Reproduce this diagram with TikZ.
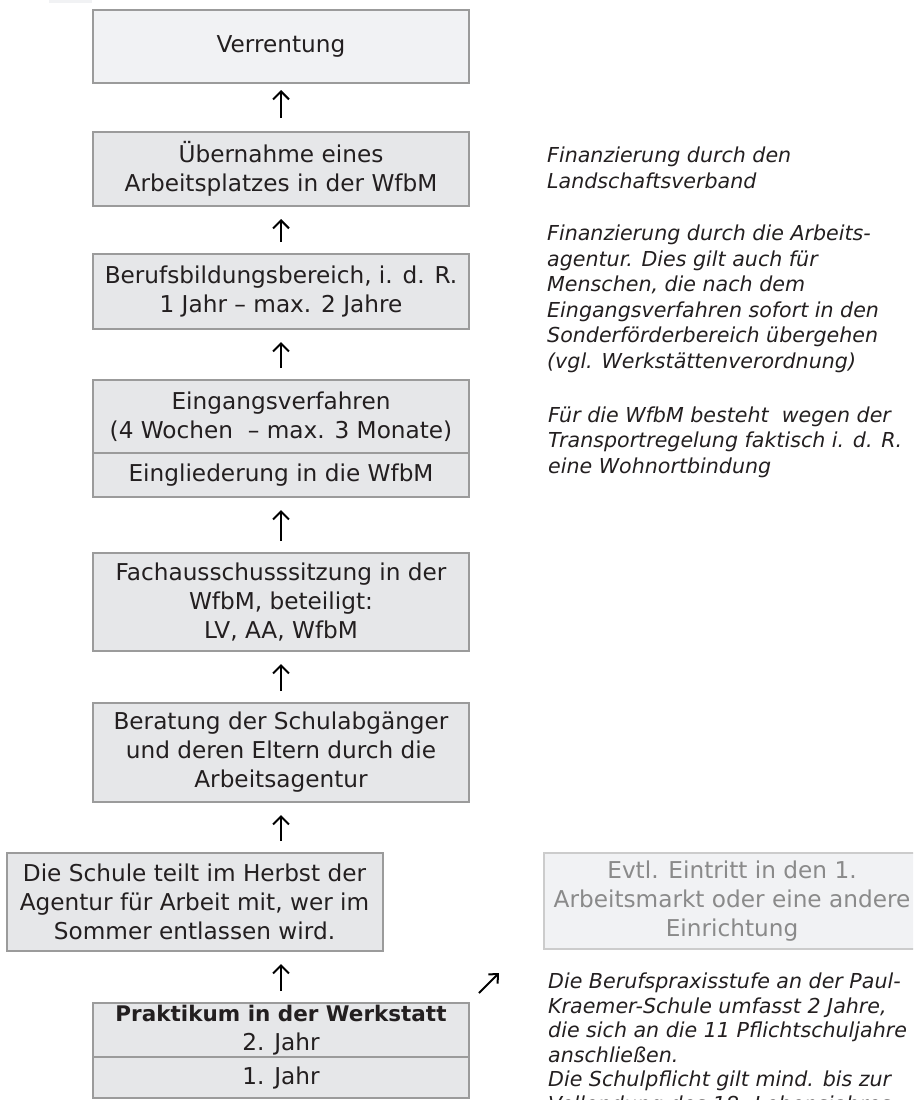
\documentclass[tikz,border=0pt]{standalone}
\usepackage{fontspec}
\setmainfont{DejaVu Sans}
\usetikzlibrary{arrows.meta}
\definecolor{boxfill}{HTML}{E6E7E9}
\definecolor{boxfilllight}{HTML}{F1F2F4}
\definecolor{boxline}{HTML}{9B9B9B}
\definecolor{evtlline}{HTML}{CCCCCC}
\definecolor{evtltext}{HTML}{8A8A8A}
\definecolor{txt}{HTML}{231F20}
\begin{document}
\begin{tikzpicture}[x=1pt,y=-1pt,
  box/.style={draw=boxline, line width=2pt, fill=boxfill, text=txt, align=center,
    inner sep=0pt, minimum width=376pt, font=\fontsize{23.2}{29}\selectfont},
  note/.style={anchor=base west, align=left, inner sep=0pt, text=txt,
    font=\fontsize{20.6}{25.5}\selectfont\itshape},
  arr/.style={line width=2pt, -{Straight Barb[length=8pt,width=16pt]},
    shorten >=12pt, shorten <=11pt}]
\clip (0,0) rectangle (913,1100);
\fill[boxfilllight] (49,0) rectangle (92,3);

\node[box, fill=boxfilllight, minimum height=73pt] (verr) at (281,46.5) {Verrentung};
\node[box, minimum height=74pt] (ueb) at (281,169) {Übernahme eines\\Arbeitsplatzes in der WfbM};
\node[box, minimum height=75pt] (beruf) at (281,291.5) {Berufsbildungsbereich, i. d. R.\\1 Jahr – max. 2 Jahre};
\node[box, minimum height=73pt] (eing) at (281,416.5) {Eingangsverfahren\\(4 Wochen\ \ – max. 3 Monate)};
\node[box, minimum height=44pt] (eingl) at (281,475) {Eingliederung in die WfbM};
\node[box, minimum height=98pt] (fach) at (281,602) {Fachausschusssitzung in der\\WfbM, beteiligt:\\LV, AA, WfbM};
\node[box, minimum height=99pt] (ber) at (281,752.5) {Beratung der Schulabgänger\\und deren Eltern durch die\\Arbeitsagentur};
\node[box, minimum height=98pt] (schule) at (194.5,902) {Die Schule teilt im Herbst der\\Agentur für Arbeit mit, wer im\\Sommer entlassen wird.};
\node[box, minimum height=54pt] (prak) at (281,1030) {{\fontsize{21.5}{29}\selectfont\bfseries Praktikum in der Werkstatt}\\2. Jahr};
\node[box, minimum height=41pt] (prak1) at (281,1077.5) {1. Jahr};
\node[box, draw=evtlline, fill=boxfilllight, text=evtltext, minimum height=96pt] (evtl) at (732,901) {Evtl. Eintritt in den 1.\\Arbeitsmarkt oder eine andere\\Einrichtung};

\draw[arr, shorten >=6pt, shorten <=13pt] (ueb.north) -- (verr.south);
\draw[arr] (beruf.north) -- (ueb.south);
\draw[arr] (eing.north) -- (beruf.south);
\draw[arr] (fach.north) -- (eingl.south);
\draw[arr] (ber.north) -- (fach.south);
\draw[arr] (ber.south |- schule.north) -- (ber.south);
\draw[arr] (prak.north) -- (prak.north |- schule.south);

\coordinate (dtail) at (479,993);
\coordinate (dhead) at (499,973);
\draw[line width=2pt, -{Straight Barb[length=7pt,width=13pt]}] (dtail) -- (dhead);

\node[note] (n1) at (547,188) {Finanzierung durch den\\Landschaftsverband};
\node[note] (n2) at (547,368) {Finanzierung durch die Arbeits-\\agentur. Dies gilt auch für\\Menschen, die nach dem\\Eingangsverfahren sofort in den\\Sonderförderbereich übergehen\\(vgl. Werkstättenverordnung)};
\node[note] (n3) at (548,473) {Für die WfbM besteht\ \ wegen der\\Transportregelung faktisch i. d. R.\\eine Wohnortbindung};
\node[note, font=\fontsize{20.6}{24.5}\selectfont\itshape] (n4) at (548,1111) {Die Berufspraxisstufe an der Paul-\\Kraemer-Schule umfasst 2 Jahre,\\die sich an die 11 Pflichtschuljahre\\anschließen.\\Die Schulpflicht gilt mind. bis zur\\Vollendung des 18. Lebensjahres};
\end{tikzpicture}
\end{document}
